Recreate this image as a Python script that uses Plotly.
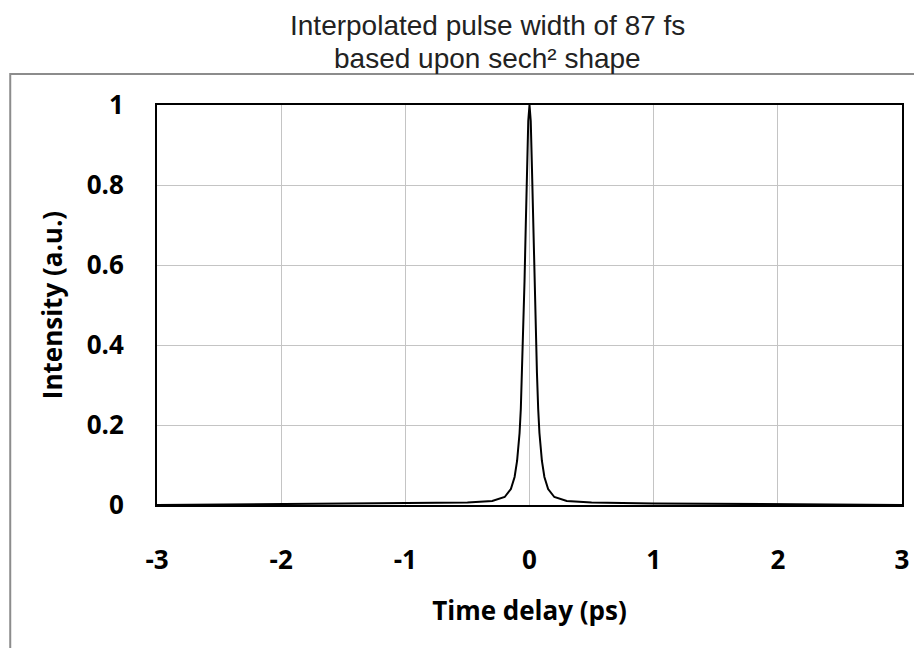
import plotly.graph_objects as go

# time delay (ps) and normalised intensity
delay = [-3, -2, -1, -0.5, -0.3, -0.2, -0.15, -0.12, -0.1, -0.08, -0.07, -0.06, -0.05,
         -0.04, -0.03, -0.02, -0.01, 0, 0.01, 0.02, 0.03, 0.04, 0.05, 0.06, 0.07, 0.08,
         0.1, 0.12, 0.15, 0.2, 0.3, 0.5, 1, 2, 3]
intensity = [0, 0.002, 0.004, 0.006, 0.01, 0.02, 0.04, 0.07, 0.11, 0.18, 0.24, 0.33, 0.43,
             0.56, 0.70, 0.84, 0.96, 1.0, 0.96, 0.84, 0.70, 0.56, 0.43, 0.33, 0.24, 0.18,
             0.11, 0.07, 0.04, 0.02, 0.01, 0.006, 0.004, 0.002, 0]

x_ticks = [-3, -2, -1, 0, 1, 2, 3]
x_labels = ["-3", "-2", "-1", "0", "1", "2", "3"]
y_ticks = [0, 0.2, 0.4, 0.6, 0.8, 1]
y_labels = ["0", "0.2", "0.4", "0.6", "0.8", "1"]

fig = go.Figure()
fig.add_trace(go.Scatter(x=delay, y=intensity, mode="lines",
                         line=dict(color="black", width=2), showlegend=False))

bold = dict(family="Open Sans", size=26, color="black", weight="bold")

fig.update_xaxes(range=[-3, 3], tickvals=x_ticks, ticktext=x_labels, showgrid=True,
                 gridcolor="#c4c4c4", gridwidth=1, showline=True, linecolor="black",
                 linewidth=2, mirror=True, zeroline=False, ticks="", tickfont=bold,
                 ticklabelstandoff=31,
                 title=dict(text="Time delay (ps)", font=bold, standoff=26))
fig.update_yaxes(range=[0, 1], tickvals=y_ticks, ticktext=y_labels, showgrid=True,
                 gridcolor="#c4c4c4", gridwidth=1, showline=True, linecolor="black",
                 linewidth=2, mirror=True, zeroline=False, ticks="", tickfont=bold,
                 ticklabelstandoff=26,
                 title=dict(text="Intensity (a.u.)", font=bold, standoff=17))

# outer chart frame
fig.add_shape(type="rect", xref="paper", yref="paper", x0=-0.197, x1=1.2, y0=-0.6, y1=1.0775,
              line=dict(color="#8c8c8c", width=2), layer="below")

# two title lines
title_font = dict(family="Liberation Sans", size=28, color="#222222")
fig.add_annotation(text="Interpolated pulse width of 87 fs", xref="paper", yref="paper",
                   x=0.443, y=1.2, yanchor="middle", showarrow=False, font=title_font)
fig.add_annotation(text="based upon sech² shape", xref="paper", yref="paper",
                   x=0.443, y=1.1175, yanchor="middle", showarrow=False, font=title_font)

fig.update_layout(width=922, height=648, margin=dict(l=149, r=28, t=97, b=151),
                  plot_bgcolor="white", paper_bgcolor="white")

fig.write_html("out.html")
